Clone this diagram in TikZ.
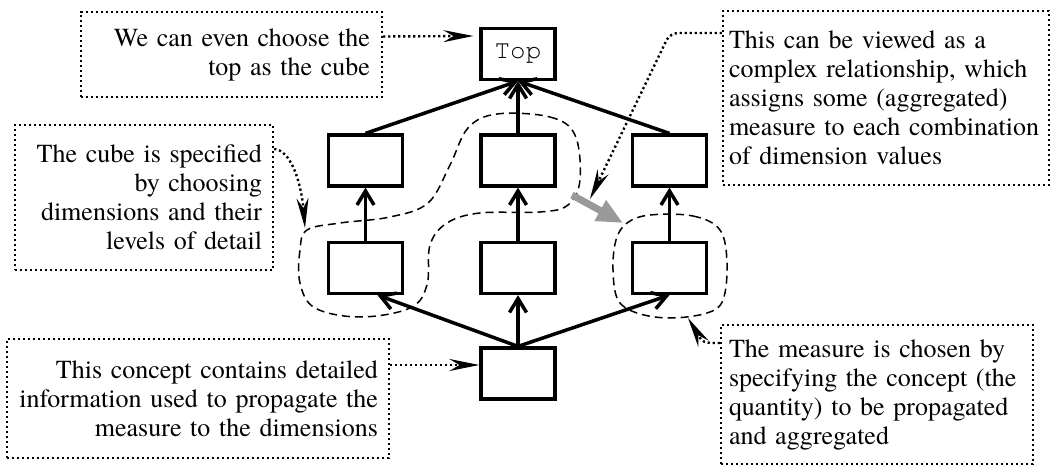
\documentclass[tikz,border=0pt]{standalone}
\usepackage{fontspec}
\setmainfont{texgyretermes-regular.otf}
\setmonofont{texgyrecursor-regular.otf}
\usetikzlibrary{arrows.meta}
\begin{document}
\begin{tikzpicture}[x=1pt,y=-1pt,
  font=\fontsize{26}{29}\selectfont,
  concept/.style={draw, line width=3.2pt, minimum width=74pt, minimum height=51pt,
    inner sep=0pt, fill=white},
  link/.style={line width=3.5pt, -{Straight Barb[length=14pt,width=17pt]}},
  note/.style={draw, line width=2.4pt, dash pattern=on 2.2pt off 2.8pt,
    inner sep=0pt},
  pointer/.style={line width=2.4pt, dash pattern=on 2.2pt off 2.8pt,
    -{Stealth[length=30pt,width=12pt,inset=10pt]}},
  hull/.style={line width=1.5pt, dash pattern=on 8pt off 5pt},
  bigarrow/.style={line width=7pt, black!40, -{Triangle[length=26pt,width=22pt]}},
]
\useasboundingbox (0,0) rectangle (1052,468);

% dashed outlines of the chosen cube and measure
\draw[hull] plot[smooth cycle, tension=0.6] coordinates {(497,114) (550,117)
  (575,135) (580,180) (568,205) (540,212) (480,213) (447,223) (430,245)
  (427,285) (410,308) (360,317) (315,308) (300,283) (300,250) (307,230)
  (340,223) (390,217) (428,203) (450,165) (468,128)};
\draw[hull] plot[smooth cycle, tension=0.6] coordinates {(650,215) (693,216)
  (720,230) (727,263) (723,300) (707,313) (670,318) (637,313) (618,300)
  (613,270) (616,240) (627,223)};

% concept lattice
\node[concept] (top) at (518,54) {\texttt{Top}};
\node[concept] (ml) at (365.5,160.5) {};
\node[concept] (mc) at (518,160.5) {};
\node[concept] (mr) at (669.5,160.5) {};
\node[concept] (ll) at (365.5,268) {};
\node[concept] (lc) at (518,268) {};
\node[concept] (lr) at (669.5,268) {};
\node[concept] (b) at (518,373.5) {};

\draw[link] (ml.north) -- (top.south);
\draw[link] (mc.north) -- (top.south);
\draw[link] (mr.north) -- (top.south);
\draw[link] (ll.north) -- (ml.south);
\draw[link] (lc.north) -- (mc.south);
\draw[link] (lr.north) -- (mr.south);
\draw[link] (b.north) -- ([xshift=12pt]ll.south);
\draw[link] (b.north) -- (lc.south);
\draw[link] (b.north) -- (lr.south);

% annotations
\node[note, minimum width=301pt, minimum height=85pt, text width=277pt,
  align=right] (n1) at (231.5,54.5) {We can even choose the\\top as the cube};
\node[note, minimum width=258pt, minimum height=145pt, text width=236pt,
  align=right] (n2) at (144,197.5)
  {The cube is specified\\by choosing\\dimensions and their\\levels of detail};
\node[note, minimum width=382pt, minimum height=119pt, text width=360pt,
  align=right] (n3) at (198,398.5)
  {This concept contains detailed\\information used to propagate the\\measure to the dimensions};
\node[note, minimum width=326pt, minimum height=174pt, text width=314pt,
  align=left] (n4) at (886,98)
  {This can be viewed as a\\complex relationship, which\\assigns some (aggregated)\\measure to each combination\\of dimension values};
\node[note, minimum width=312pt, minimum height=139pt, text width=296pt,
  align=left] (n5) at (877,394.5)
  {The measure is chosen by\\specifying the concept (the\\quantity) to be propagated\\and aggregated};

\coordinate (hullL) at (305,228);
\coordinate (hullC) at (590,199);
\coordinate (hullR) at (688,318);
\coordinate (gs) at (572,195);
\coordinate (ge) at (623,223);

\draw[pointer] ([yshift=18pt]n1.east) -- ([xshift=-6pt,yshift=18pt]top.west);
\draw[pointer] ([yshift=48.5pt]n2.east) .. controls (290,150) and (301,180) .. (hullL);
\draw[pointer] ([yshift=33.5pt]n3.east) -- ([yshift=8.5pt]b.west);
\draw[pointer, rounded corners=8pt] ([yshift=65pt]n4.west) -- (670,33) -- (hullC);
\draw[pointer] ([yshift=51.5pt]n5.west) .. controls (703,343) .. (hullR);

\draw[bigarrow] (gs) -- (ge);
\end{tikzpicture}
\end{document}
